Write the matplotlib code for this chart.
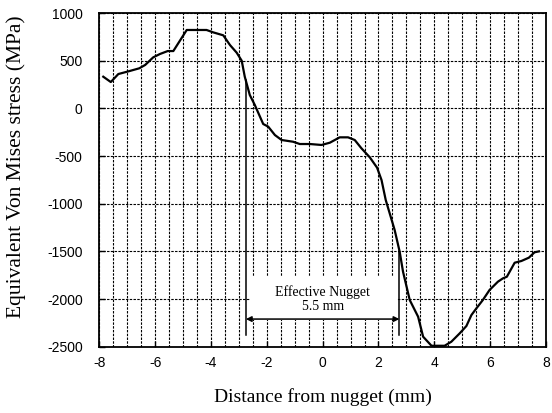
import numpy as np
import matplotlib.pyplot as plt
from matplotlib.patches import Rectangle

plt.rcParams['axes.unicode_minus'] = False

# distance from nugget centre (mm) and stress (MPa)
distance = [-7.86, -7.59, -7.32, -6.96, -6.57, -6.36, -6.07, -5.83, -5.55, -5.35,
            -4.87, -4.16, -3.92, -3.56, -3.32, -3.08, -2.90, -2.79, -2.61, -2.43,
            -2.13, -1.95, -1.71, -1.47, -1.06, -0.82, -0.46, -0.04, 0.26, 0.61,
            0.91, 1.15, 1.39, 1.69, 1.95, 2.11, 2.26, 2.58, 2.76, 2.88,
            3.12, 3.42, 3.60, 3.90, 4.37, 4.61, 4.91, 5.15, 5.33, 5.51,
            5.74, 5.98, 6.28, 6.46, 6.60, 6.88, 7.12, 7.39, 7.59, 7.75]
stress = [332, 276, 360, 388, 420, 455, 535, 570, 601, 601,
          822, 822, 797, 766, 664, 584, 500, 332, 140, 35,
          -164, -192, -280, -332, -350, -374, -374, -384, -360, -304,
          -304, -332, -419, -514, -622, -752, -961, -1276, -1504, -1713,
          -2010, -2185, -2395, -2490, -2490, -2448, -2360, -2283, -2168, -2097,
          -2010, -1905, -1818, -1783, -1766, -1619, -1601, -1566, -1510, -1500]

nugget_edges = [-2.75, 2.75]
edge_top = [300, -1500]
marker_bottom = -2375
arrow_y = -2210

fig = plt.figure(figsize=(5.52, 4.13), dpi=100)
ax = fig.add_axes([0.180, 0.1605, 0.809, 0.808])

ax.set_xlim(-8, 8)
ax.set_ylim(-2500, 1000)
ax.set_xticks(np.arange(-8, 9, 2))
ax.set_xticks(np.arange(-8, 8.5, 0.5), minor=True)
ax.set_yticks(np.arange(-2500, 1001, 500))

dash = (0, (2.2, 1.2))
ax.grid(True, which='both', axis='x', color='black', linestyle=dash, linewidth=0.8, zorder=1)
ax.grid(True, which='major', axis='y', color='black', linestyle=dash, linewidth=0.8, zorder=1)
ax.set_axisbelow(True)

ax.tick_params(which='major', direction='in', length=4, width=1, labelsize=10)
ax.tick_params(axis='y', pad=12)
ax.tick_params(axis='x', pad=7)
ax.tick_params(which='minor', length=0)
for lab in ax.get_xticklabels() + ax.get_yticklabels():
    lab.set_fontfamily('Liberation Sans')
for s in ax.spines.values():
    s.set_linewidth(1.3)

# white label area
ax.add_patch(Rectangle((-2.62, -2215), 5.27, 450, facecolor='white', edgecolor='none', zorder=2))

ax.plot(distance, stress, color='black', linewidth=1.6, zorder=3)

for xe, yt in zip(nugget_edges, edge_top):
    ax.plot([xe, xe], [yt, marker_bottom], color='black', linewidth=1.1, zorder=3)

ax.annotate('', xy=(nugget_edges[0], arrow_y), xytext=(nugget_edges[1], arrow_y),
            arrowprops=dict(arrowstyle='<|-|>', color='black', lw=1.1,
                            mutation_scale=8, shrinkA=0, shrinkB=0), zorder=4)
ax.text(0, -2000, 'Effective Nugget\n5.5 mm', ha='center', va='center',
        fontsize=10, family='Liberation Serif', linespacing=1.15, zorder=4)

ax.set_xlabel('Distance from nugget (mm)', family='Liberation Serif', fontsize=14, labelpad=13)
ax.set_ylabel('Equivalent Von Mises stress (MPa)', family='Liberation Serif', fontsize=15.5)
ax.yaxis.set_label_coords(-0.164, 0.54)

fig.savefig('out.png', dpi=100)
